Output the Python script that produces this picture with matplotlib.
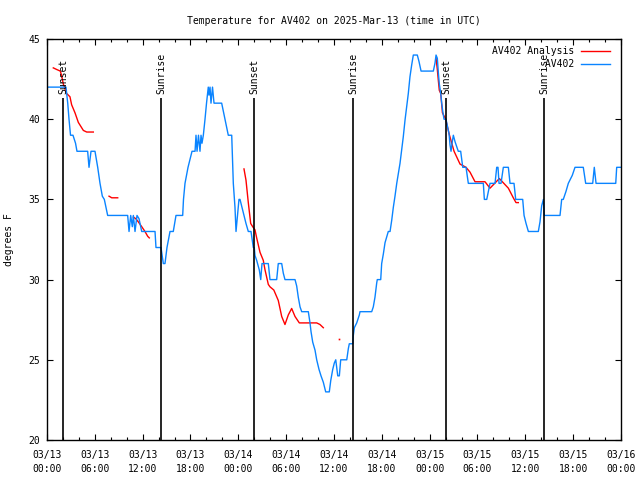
import matplotlib
matplotlib.use("Agg")
import matplotlib.pyplot as plt
import matplotlib.dates as mdates
import pandas as pd

# === Data (hours since 2025-03-13 00:00 UTC, degrees F) ===
obs_hours = [0.13, 2.38, 2.60, 2.76, 2.95, 3.26, 3.58, 3.76, 5.10, 5.27, 5.52, 6.02,
             6.36, 6.65, 6.94, 7.19, 7.61, 10.12, 10.29, 10.50, 10.70, 10.83, 11.04,
             11.29, 11.54, 11.88, 13.55, 13.67, 14.30, 14.59, 14.80, 15.05, 15.43,
             15.84, 16.18, 17.02, 17.12, 17.31, 17.69, 18.19, 18.57, 18.69, 18.82,
             19.00, 19.19, 19.32, 19.44, 19.61, 19.82, 20.01, 20.23, 20.32, 20.45,
             20.57, 20.76, 20.95, 21.29, 21.91, 22.33, 22.74, 23.17, 23.37, 23.58,
             23.71, 23.90, 24.08, 24.21, 24.46, 24.71, 24.96, 25.25, 25.59, 25.88,
             26.00, 26.09, 26.30, 26.63, 26.81, 26.97, 27.76, 27.97, 28.81, 29.01,
             29.44, 29.64, 29.85, 31.11, 31.32, 31.52, 31.74, 31.95, 32.78, 32.99,
             33.12, 33.33, 33.62, 33.83, 34.12, 34.37, 34.66, 34.96, 35.41, 35.59,
             35.84, 36.04, 36.22, 36.47, 36.67, 36.84, 37.60, 37.80, 37.92, 38.35,
             38.42, 38.55, 38.85, 39.18, 39.26, 40.73, 40.93, 41.14, 41.36, 41.43,
             41.86, 41.98, 42.19, 42.40, 42.81, 43.03, 43.24, 43.44, 43.65, 43.87,
             44.07, 44.28, 44.49, 44.69, 44.91, 45.12, 45.32, 45.53, 45.75, 45.95,
             46.45, 46.66, 46.92, 48.46, 48.67, 48.80, 48.96, 49.09, 49.21, 49.39,
             49.51, 49.64, 49.80, 50.05, 50.21, 50.43, 50.55, 50.68, 50.84, 50.97,
             51.18, 51.59, 51.89, 52.02, 52.15, 52.56, 52.85, 54.73, 54.86, 55.16,
             55.36, 55.57, 56.20, 56.41, 56.57, 56.70, 56.95, 57.24, 57.87, 58.08,
             58.58, 58.79, 59.67, 59.84, 60.09, 60.38, 61.63, 61.84, 62.05, 62.26,
             62.38, 64.35, 64.56, 64.76, 65.10, 65.39, 65.89, 66.23, 67.27, 67.57,
             68.45, 68.65, 68.87, 71.34, 71.46, 72.00]
obs_temp = [42, 42, 41, 40, 39, 39, 38.5, 38, 38, 37, 38, 38,
            37, 36, 35.2, 35, 34, 34, 33, 34, 33.3, 34, 33,
            34, 33.8, 33, 33, 32, 32, 31, 31, 32, 33,
            33, 34, 34, 35, 36, 37, 38, 38, 39, 38,
            39, 38, 39, 38.5, 39, 40, 41, 42, 41.5, 42,
            41, 42, 41, 41, 41, 40, 39, 39, 36, 34.5,
            33, 34, 35, 35, 34.5, 34, 33.5, 33, 33, 32,
            32, 31.5, 31.2, 30.6, 30, 31, 31, 30, 30, 31,
            31, 30.4, 30, 30, 29.6, 28.9, 28.3, 28, 28, 27.3,
            26.75, 26.1, 25.6, 25, 24.4, 24, 23.6, 23, 23, 23.7,
            24.4, 24.8, 25, 24, 24, 25, 25, 25.7, 26, 26,
            26.5, 27, 27.3, 27.8, 28, 28, 28.3, 28.9, 29.8, 30,
            30, 31, 31.6, 32.3, 33, 33, 33.7, 34.5, 35.2, 36,
            36.6, 37.25, 38.1, 38.9, 39.95, 40.8, 41.6, 42.65, 43.4, 44,
            44, 43.6, 43, 43, 43.5, 44, 43.8, 42.9, 42.2, 41.6,
            41, 40.5, 40, 40, 39.6, 39.1, 38.4, 38, 38.6, 39,
            38.6, 38, 38, 37.5, 37, 37, 36, 36, 35, 35,
            35.5, 36, 36, 37, 37, 36, 36, 37, 37, 36,
            36, 35, 35, 34, 33.5, 33, 33, 33.6, 34.6, 35,
            34, 34, 35, 35, 35.5, 36, 36.5, 37, 37, 36,
            36, 37, 36, 36, 37, 37]

# analysis comes in separate pieces (gaps between them)
ana_hours_1 = [0.79, 1.21, 1.67, 1.84, 2.04, 2.47, 2.88, 3.09, 3.51, 3.93, 4.56, 4.98, 5.81]
ana_temp_1 = [43.2, 43.1, 43.0, 42.7, 42.2, 41.6, 41.4, 40.9, 40.4, 39.8, 39.3, 39.2, 39.2]
ana_hours_2 = [7.78, 8.12, 8.87]
ana_temp_2 = [35.2, 35.1, 35.1]
ana_hours_3 = [10.83, 11.13, 11.45, 11.88, 12.29, 12.63, 12.83]
ana_temp_3 = [33.9, 33.8, 33.6, 33.3, 33.0, 32.7, 32.6]
ana_hours_4 = [24.71, 24.96, 25.25, 25.55, 25.80, 26.09, 26.30, 26.72, 27.13, 27.35,
               27.76, 27.97, 28.45, 29.01, 29.44, 29.85, 30.27, 30.69, 31.11, 31.65,
               33.83, 34.24, 34.66]
ana_temp_4 = [36.9, 36.2, 34.8, 33.5, 33.3, 33.1, 32.6, 31.7, 31.2, 30.6,
              29.7, 29.55, 29.35, 28.7, 27.7, 27.2, 27.8, 28.2, 27.7, 27.3,
              27.3, 27.2, 27.0]
ana_hours_5 = [48.80, 48.96, 49.09, 49.21, 49.39, 49.60, 50.01, 50.43, 51.06, 51.81,
               52.56, 53.06, 53.69, 54.94, 55.57, 56.74, 57.87, 58.49, 58.83, 59.12]
ana_temp_5 = [43.8, 43.1, 42.4, 41.8, 41.6, 40.4, 40.0, 39.1, 38.0, 37.2,
              37.0, 36.7, 36.1, 36.1, 35.7, 36.3, 35.7, 35.1, 34.8, 34.8]
ana_dot_hours = [36.67]
ana_dot_temp = [26.3]

sun_hours = [2.04, 14.30, 26.00, 38.42, 50.07, 62.40]
sun_labels = ["Sunset", "Sunrise", "Sunset", "Sunrise", "Sunset", "Sunrise"]

base = pd.Timestamp("2025-03-13 00:00")


def to_time(hours):
    return base + pd.to_timedelta(hours, unit="h")


font = "DejaVu Sans Mono"
plt.rcParams["font.family"] = font
plt.rcParams["font.size"] = 7

fig = plt.figure(figsize=(6.4, 4.8), dpi=100)
ax = fig.add_axes([47 / 640, 1 - 440 / 480, 574 / 640, 401 / 480])

red = "#ff0000"
blue = "#0a84ff"

segs = [(ana_hours_1, ana_temp_1), (ana_hours_2, ana_temp_2), (ana_hours_3, ana_temp_3),
        (ana_hours_4, ana_temp_4), (ana_hours_5, ana_temp_5)]
for i, (h, v) in enumerate(segs):
    ax.plot(to_time(h), v, color=red, lw=1.0, label="AV402 Analysis" if i == 0 else None)
ax.plot(to_time(ana_dot_hours), ana_dot_temp, ls="none", marker="s", ms=1.2, color=red, mew=0)
ax.plot(to_time(obs_hours), obs_temp, color=blue, lw=1.0, label="         AV402")

# sunrise / sunset markers
sun_top = 41.3
ax.vlines(to_time(sun_hours), 20, sun_top, color="black", lw=1.2)
for h, lab in zip(sun_hours, sun_labels):
    ax.text(to_time(h), sun_top + 0.25, lab, rotation=90, ha="center", va="bottom",
            fontsize=7)

ax.set_xlim(base, base + pd.Timedelta(hours=72))
ax.set_ylim(20, 45)
ax.set_yticks([20, 25, 30, 35, 40, 45])
ax.xaxis.set_major_locator(mdates.HourLocator(byhour=[0, 6, 12, 18]))
ax.xaxis.set_minor_locator(mdates.HourLocator(byhour=range(0, 24, 2)))
ax.xaxis.set_major_formatter(mdates.DateFormatter("%m/%d\n%H:%M"))
ax.tick_params(which="both", direction="in", top=True, right=True, labelsize=7)
ax.tick_params(axis="x", pad=7)
ax.tick_params(axis="y", pad=5)
ax.tick_params(which="major", length=4, width=0.8)
ax.tick_params(which="minor", length=2, width=0.8)
for lbl in ax.get_xticklabels():
    lbl.set_linespacing(1.5)
for s in ax.spines.values():
    s.set_linewidth(1.0)

ax.set_ylabel("degrees F", fontsize=7, labelpad=10)
ax.set_title("Temperature for AV402 on 2025-Mar-13 (time in UTC)", fontsize=7, pad=11)

ax.legend(loc="upper right", bbox_to_anchor=((610 - 47) / 574, 1 - 7 / 401),
          frameon=False, markerfirst=False, handlelength=3.0, handletextpad=0.7,
          labelspacing=0.35, borderaxespad=0, borderpad=0,
          prop={"family": font, "size": 7})

fig.savefig("out.png", dpi=100)
